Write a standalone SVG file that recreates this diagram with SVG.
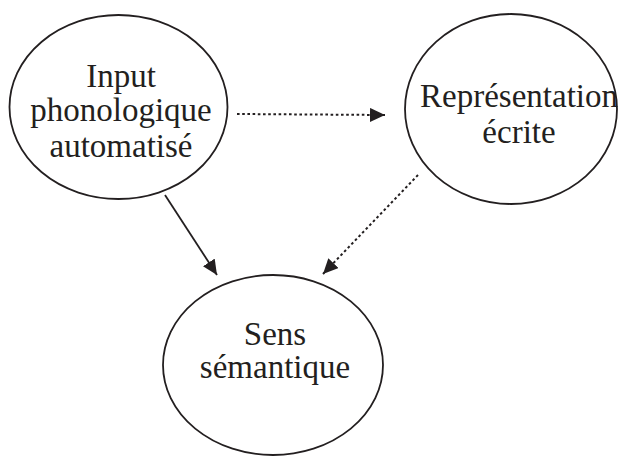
<svg xmlns="http://www.w3.org/2000/svg" width="621" height="459" viewBox="0 0 621 459">
  <style>
    .node ellipse { fill: #ffffff; stroke: #231f20; stroke-width: 1.8; }
    .node text { font-family: "Liberation Serif", "Times New Roman", serif; font-size: 33px; fill: #231f20; text-anchor: middle; }
    .edge { fill: none; stroke: #231f20; stroke-width: 1.8; }
    .dotted { stroke-dasharray: 2.6 2.6; stroke-width: 2; }
  </style>
  <defs>
    <marker id="arrow" markerUnits="userSpaceOnUse" markerWidth="16" markerHeight="14" refX="15" refY="7" orient="auto">
      <path d="M0,0 L15,7 L0,14 Z" fill="#231f20"/>
    </marker>
  </defs>
  <rect width="621" height="459" fill="#ffffff"/>
  <g id="connectors">
    <line class="edge dotted" x1="237" y1="114" x2="385" y2="115" marker-end="url(#arrow)"/>
    <line class="edge" x1="165" y1="195" x2="217" y2="275" marker-end="url(#arrow)"/>
    <line class="edge dotted" x1="418" y1="175" x2="323" y2="274" marker-end="url(#arrow)"/>
  </g>
  <g id="node-input" class="node">
    <ellipse cx="118.5" cy="107" rx="109" ry="92"/>
    <text x="121" y="87">Input</text>
    <text x="121" y="121">phonologique</text>
    <text x="121" y="157">automatisé</text>
  </g>
  <g id="node-representation" class="node">
    <ellipse cx="511" cy="109" rx="106" ry="95"/>
    <text x="519" y="107">Représentation</text>
    <text x="519" y="143">écrite</text>
  </g>
  <g id="node-sens" class="node">
    <ellipse cx="273" cy="365" rx="110" ry="90"/>
    <text x="275" y="345">Sens</text>
    <text x="275" y="378">sémantique</text>
  </g>
</svg>
